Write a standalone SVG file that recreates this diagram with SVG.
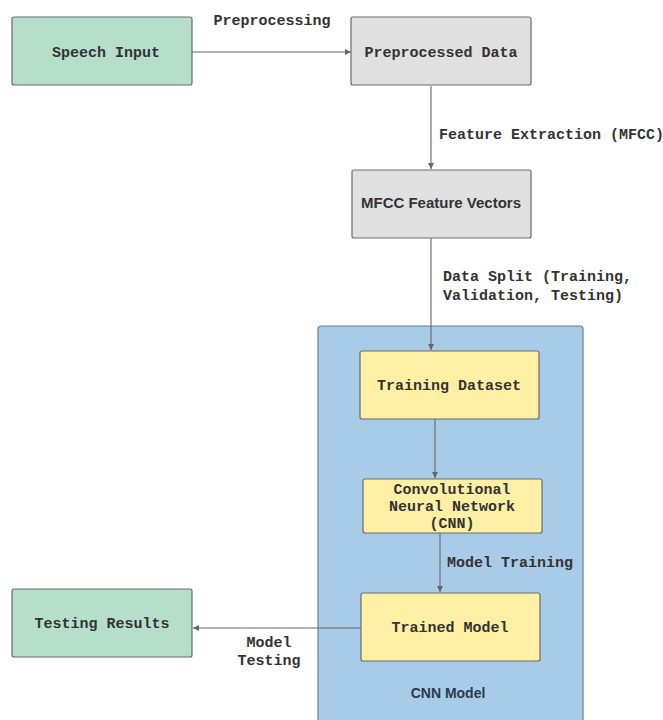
<svg xmlns="http://www.w3.org/2000/svg" width="663" height="720" viewBox="0 0 663 720">
<defs>
<style>
.box{stroke:#6b6b6b;stroke-width:1.2}
.g{fill:#b6dfcb}.gr{fill:#e0e0e0}.y{fill:#fff0a6}.b{fill:#a8cbe8;stroke:#6f7f8f;stroke-width:1.2}
.t{font-family:"Liberation Mono","DejaVu Sans Mono",monospace;font-weight:bold;font-size:15px;fill:#333}
.s{font-family:"Liberation Sans",Arial,sans-serif;font-weight:bold;font-size:15px;fill:#333}
.c{text-anchor:middle}
.ln{stroke:#666;stroke-width:1.1;fill:none;marker-end:url(#ah)}
</style>
<marker id="ah" markerWidth="8" markerHeight="8" refX="6" refY="3" orient="auto" markerUnits="userSpaceOnUse">
<path d="M0,0 L6,3 L0,6 Z" fill="#666"/>
</marker>
</defs>
<rect width="663" height="720" fill="#fff"/>
<g id="cnn-model">
<rect class="b" x="318" y="326" width="265" height="400" rx="3"/>
<text class="s c" x="448" y="698" style="font-size:14px;fill:#2b3a4a">CNN Model</text>
</g>
<g id="connectors">
<line class="ln" x1="192" y1="52" x2="351" y2="52"/>
<line class="ln" x1="431" y1="86" x2="431" y2="169"/>
<line class="ln" x1="431" y1="238" x2="431" y2="350"/>
<line class="ln" x1="435" y1="419" x2="435" y2="478"/>
<line class="ln" x1="440" y1="533" x2="440" y2="592"/>
<line class="ln" x1="361" y1="628" x2="193" y2="628"/>
<text class="t c" x="272" y="25">Preprocessing</text>
<text class="t" x="439" y="139">Feature Extraction (MFCC)</text>
<text class="t" x="443" y="281">Data Split (Training,</text>
<text class="t" x="443" y="300">Validation, Testing)</text>
<text class="t" x="447" y="567">Model Training</text>
<text class="t c" x="269" y="647">Model</text>
<text class="t c" x="269" y="665">Testing</text>
</g>
<g id="speech-input">
<rect class="box g" x="12" y="17" width="180" height="68" rx="2"/>
<text class="t c" x="106" y="57">Speech Input</text>
</g>
<g id="preprocessed-data">
<rect class="box gr" x="351" y="17" width="180" height="68" rx="2"/>
<text class="t c" x="441" y="57">Preprocessed Data</text>
</g>
<g id="mfcc-feature-vectors">
<rect class="box gr" x="352" y="170" width="179" height="68" rx="2"/>
<text class="s c" x="441" y="208">MFCC Feature Vectors</text>
</g>
<g id="training-dataset">
<rect class="box y" x="360" y="351" width="179" height="68" rx="2"/>
<text class="t c" x="449" y="390">Training Dataset</text>
</g>
<g id="cnn">
<rect class="box y" x="363" y="479" width="179" height="54" rx="2"/>
<text class="t c" x="452" y="494">Convolutional</text>
<text class="t c" x="452" y="511">Neural Network</text>
<text class="t c" x="452" y="528">(CNN)</text>
</g>
<g id="trained-model">
<rect class="box y" x="361" y="593" width="179" height="68" rx="2"/>
<text class="t c" x="450" y="632">Trained Model</text>
</g>
<g id="testing-results">
<rect class="box g" x="12" y="589" width="180" height="68" rx="2"/>
<text class="t c" x="102" y="628">Testing Results</text>
</g>
</svg>
